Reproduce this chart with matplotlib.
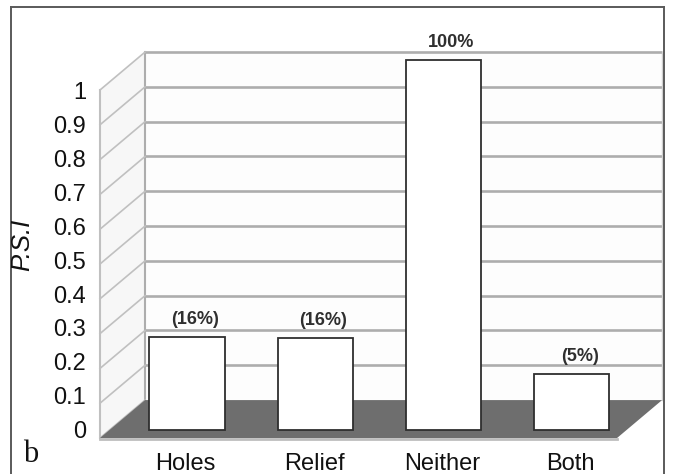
import matplotlib

matplotlib.use("Agg")
import matplotlib.pyplot as plt
from matplotlib.lines import Line2D
from matplotlib.patches import Polygon

# Pseudo-3D column chart of P.S.I by surface type.
categories = ["Holes", "Relief", "Neither", "Both"]
psi_values = [0.268, 0.265, 1.064, 0.162]
bar_labels = ["(16%)", "(16%)", "100%", "(5%)"]
tick_values = [0, 0.1, 0.2, 0.3, 0.4, 0.5, 0.6, 0.7, 0.8, 0.9, 1]
tick_labels = ["0", "0.1", "0.2", "0.3", "0.4", "0.5", "0.6", "0.7", "0.8", "0.9", "1"]

NARROW = ["Liberation Sans Narrow", "Liberation Sans", "DejaVu Sans"]

# Oblique projection: depth shifts points right and up.
DX, DY = 0.351, 0.109
FLOOR_L, FLOOR_R = -0.608, 3.422
BAR_DEPTH = 0.2
BAR_W = 0.585

fig = plt.figure(figsize=(6.73, 4.74), dpi=100)
ax = fig.add_axes([0, 0, 1, 1])
ax.set_xlim(-1.3874, 3.8581)
ax.set_ylim(-0.1034, 1.2586)
ax.axis("off")

grid_c = "#adadad"
top = tick_values[-1]

# Back wall
ax.add_patch(Polygon(
    [(FLOOR_L + DX, DY), (FLOOR_R + DX, DY), (FLOOR_R + DX, top + DY), (FLOOR_L + DX, top + DY)],
    closed=True, facecolor="#fdfdfd", edgecolor="none", zorder=1))
for v in tick_values[1:]:
    ax.plot([FLOOR_L + DX, FLOOR_R + DX], [v + DY, v + DY], color=grid_c, lw=1.9, zorder=2,
            solid_capstyle="butt")
ax.plot([FLOOR_L + DX, FLOOR_L + DX], [DY, top + DY], color=grid_c, lw=1.5, zorder=2)
ax.plot([FLOOR_R + DX, FLOOR_R + DX], [DY, top + DY], color="#d0d0d0", lw=1.0, zorder=2)

# Left side wall
ax.add_patch(Polygon(
    [(FLOOR_L, 0), (FLOOR_L + DX, DY), (FLOOR_L + DX, top + DY), (FLOOR_L, top)],
    closed=True, facecolor="#f7f7f7", edgecolor="none", zorder=1))
for v in tick_values:
    ax.plot([FLOOR_L, FLOOR_L + DX], [v, v + DY], color="#c0c0c0", lw=1.2, zorder=2)
ax.plot([FLOOR_L, FLOOR_L], [0, top], color="#c0c0c0", lw=1.5, zorder=2)

# Floor
ax.add_patch(Polygon(
    [(FLOOR_L, 0), (FLOOR_L + DX, DY), (FLOOR_R + DX, DY), (FLOOR_R, 0)],
    closed=True, facecolor="#6e6e6e", edgecolor="none", zorder=3))
ax.plot([FLOOR_L, FLOOR_R], [-0.004, -0.004], color="#bdbdbd", lw=2.0, zorder=3)

# Columns
xs = [i + BAR_DEPTH * DX for i in range(len(categories))]
base = BAR_DEPTH * DY
ax.bar(xs, psi_values, width=BAR_W, bottom=base, color="white",
       edgecolor="#2e2e2e", linewidth=1.3, zorder=4)

for x, v, lab in zip(xs, psi_values, bar_labels):
    ax.text(x + 0.06, base + v + 0.05, lab, ha="center", va="center",
            fontsize=13, fontweight="bold", color="#2f2f2f",
            family=["Liberation Sans", "DejaVu Sans"], zorder=5)

# Value axis labels on the front edge of the side wall
for v, lab in zip(tick_values, tick_labels):
    ax.text(-0.717, v * 0.974 + 0.017, lab, ha="right", va="center",
            fontsize=17, color="#111111", family=NARROW)

# Category labels
for x, name in zip(xs, categories):
    ax.text(x - 0.01, -0.092, name, ha="center", va="baseline",
            fontsize=17, color="#111111", family=NARROW)

fig.text(22 / 673, 1 - 245 / 474, "P.S.I", rotation=90, ha="center", va="center",
         fontsize=18.5, style="italic", color="#111111", family=NARROW)
fig.text(31 / 673, 1 - 455 / 474, "b", ha="center", va="center",
         fontsize=22, color="#111111", family=["Liberation Serif", "DejaVu Serif"])

# Panel frame
fx0, fx1, fy1 = 11.5 / 673, 663.5 / 673, 1 - 7 / 474
for xd, yd in [([fx0, fx0], [0, fy1]), ([fx0, fx1], [fy1, fy1]), ([fx1, fx1], [fy1, 0])]:
    fig.add_artist(Line2D(xd, yd, color="#5a5a5a", lw=1.4))

fig.savefig("out.png", dpi=100, facecolor="white")
